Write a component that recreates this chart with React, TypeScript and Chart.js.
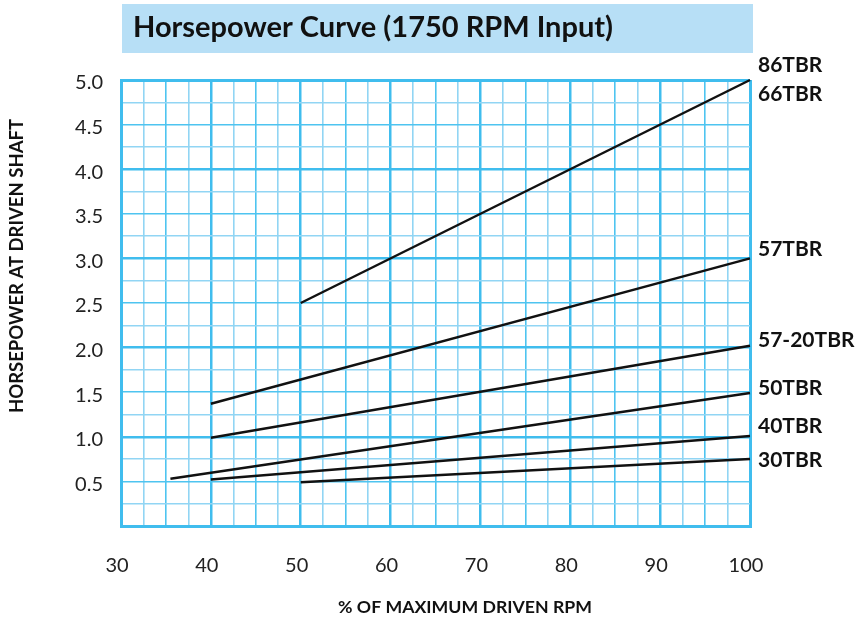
import React, { useEffect, useRef } from "react";
import { Chart, registerables } from "chart.js";

Chart.register(...registerables);

// ---- data ----
const chartTitle = "Horsepower Curve (1750 RPM Input)";
const xAxisTitle = "% OF MAXIMUM DRIVEN RPM";
const yAxisTitle = "HORSEPOWER AT DRIVEN SHAFT";

const seriesNames = ["86TBR/66TBR", "57TBR", "57-20TBR", "50TBR", "40TBR", "30TBR"];
const xStart = [50, 40, 40, 35.5, 40, 50];
const yStart = [2.5, 1.37, 0.99, 0.53, 0.52, 0.49];
const xEnd = [100, 100, 100, 100, 100, 100];
const yEnd = [5.0, 3.0, 2.02, 1.49, 1.01, 0.75];

const endLabels = ["86TBR", "66TBR", "57TBR", "57-20TBR", "50TBR", "40TBR", "30TBR"];
const endLabelValues = [5.16, 4.84, 3.1, 2.08, 1.55, 1.12, 0.74];

const xMin = 30;
const xMax = 100;
const xStep = 2.5;
const yMin = 0;
const yMax = 5;
const yStep = 0.25;

// ---- styles ----
const MAJOR = "rgb(64,189,238)";
const MID = "rgb(78,196,240)";
const LIGHT = "rgb(145,213,244)";
const TITLE_BG = "rgb(183,223,246)";
const INK = "#111111";
const FONT = "Lato, 'Open Sans', sans-serif";

const isMult = (v: number, m: number) => Math.abs(v / m - Math.round(v / m)) < 1e-6;

export default function App() {
  const ref = useRef<HTMLCanvasElement | null>(null);

  useEffect(() => {
    if (!ref.current) return;

    const datasets = seriesNames.map((name, i) => ({
      label: name,
      data: [
        { x: xStart[i], y: yStart[i] },
        { x: xEnd[i], y: yEnd[i] },
      ],
      borderColor: INK,
      borderWidth: 2.5,
      pointRadius: 0,
      fill: false,
      clip: false as any,
    }));

    const decor = {
      id: "decor",
      beforeDraw(chart: any) {
        const { ctx, chartArea } = chart;
        ctx.save();
        ctx.fillStyle = TITLE_BG;
        ctx.fillRect(chartArea.left + 1, 4, chartArea.right - chartArea.left + 2, 49);
        ctx.fillStyle = INK;
        ctx.font = `bold 29px ${FONT}`;
        ctx.textAlign = "left";
        ctx.textBaseline = "alphabetic";
        ctx.fillText(chartTitle, chartArea.left + 12, 37);
        ctx.restore();
      },
      afterDraw(chart: any) {
        const { ctx, chartArea, scales } = chart;
        ctx.save();
        ctx.fillStyle = INK;
        ctx.font = `bold 21px ${FONT}`;
        ctx.textAlign = "left";
        ctx.textBaseline = "middle";
        endLabels.forEach((t, i) => {
          ctx.fillText(t, chartArea.right + 8, scales.y.getPixelForValue(endLabelValues[i]));
        });
        ctx.textAlign = "center";
        ctx.textBaseline = "middle";
        ctx.font = `bold 17.7px ${FONT}`;
        ctx.fillText(xAxisTitle, chartArea.left + 344, chartArea.bottom + 81);
        ctx.font = `bold 18.5px ${FONT}`;
        ctx.translate(17, chartArea.top + 186);
        ctx.rotate(-Math.PI / 2);
        ctx.fillText(yAxisTitle, 0, 0);
        ctx.restore();
      },
    };

    const chart = new Chart(ref.current, {
      type: "line",
      data: { datasets },
      plugins: [decor],
      options: {
        responsive: false,
        animation: false,
        events: [],
        layout: { padding: { left: 0, right: 113, top: 80, bottom: 0 } },
        plugins: {
          legend: { display: false },
          title: { display: false },
          tooltip: { enabled: false },
        },
        scales: {
          x: {
            type: "linear",
            min: xMin,
            max: xMax,
            afterFit: (s: any) => {
              s.height = 95;
            },
            border: { display: true, color: MAJOR, width: 3 },
            grid: {
              drawTicks: false,
              color: (c: any) => {
                const v = c.tick ? c.tick.value : 0;
                if (isMult(v, 10)) return MAJOR;
                if (isMult(v, 5)) return MID;
                return LIGHT;
              },
              lineWidth: (c: any) => {
                const v = c.tick ? c.tick.value : 0;
                if (v === xMin || v === xMax) return 3;
                if (isMult(v, 10)) return 2.5;
                return 1.6;
              },
            },
            ticks: {
              stepSize: xStep,
              autoSkip: false,
              maxRotation: 0,
              padding: 28,
              labelOffset: -4,
              color: "#222",
              font: { family: FONT, size: 20 },
              callback: (v: any) => (isMult(Number(v), 10) ? String(v) : ""),
            },
          },
          y: {
            type: "linear",
            min: yMin,
            max: yMax,
            afterFit: (s: any) => {
              s.width = 121;
            },
            border: { display: true, color: MAJOR, width: 3 },
            grid: {
              drawTicks: false,
              color: (c: any) => {
                const v = c.tick ? c.tick.value : 0;
                if (isMult(v, 1)) return MAJOR;
                if (isMult(v, 0.5)) return MID;
                return LIGHT;
              },
              lineWidth: (c: any) => {
                const v = c.tick ? c.tick.value : 0;
                if (v === yMin || v === yMax) return 3;
                if (isMult(v, 1)) return 2.5;
                return 1.6;
              },
            },
            ticks: {
              stepSize: yStep,
              autoSkip: false,
              padding: 18,
              labelOffset: 3,
              color: "#222",
              font: { family: FONT, size: 20 },
              callback: (v: any) => {
                const n = Number(v);
                return isMult(n, 0.5) && n > 0 ? n.toFixed(1) : "";
              },
            },
          },
        },
      } as any,
    });

    return () => chart.destroy();
  }, []);

  return (
    <div style={{ position: "absolute", left: 0, top: 0, width: 863, height: 621, background: "#fff" }}>
      <canvas ref={ref} width={863} height={621} style={{ width: 863, height: 621, display: "block" }} />
    </div>
  );
}
